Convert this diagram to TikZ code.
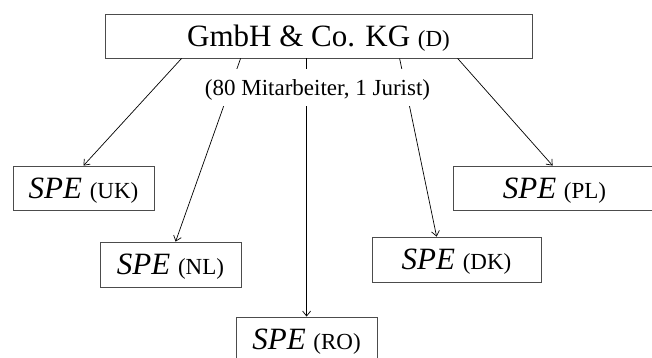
\documentclass[tikz,border=0pt]{standalone}
\usepackage{fontspec}
\setmainfont{Liberation Serif}
\usetikzlibrary{arrows.meta}
\newcommand\smtxt[1]{{\fontsize{23}{23}\selectfont #1}}
\begin{document}
\begin{tikzpicture}[x=1pt,y=-1pt,
  box/.style={draw=black!70, line width=0.8pt, inner sep=0pt, minimum height=44pt,
    text height=20.5pt, text depth=0pt, font=\fontsize{31}{31}\selectfont},
  conn/.style={-{Straight Barb[length=5pt,width=8pt]}, line width=0.7pt},
  lbl/.style={fill=white, inner xsep=3pt, inner ysep=0pt, minimum height=37pt,
    text height=15.5pt, text depth=0pt, font=\fontsize{23}{23}\selectfont}]
\useasboundingbox (0,0) rectangle (652,358);
\clip (0,0) rectangle (652,358);
\node[box, minimum width=427pt] (top) at (318.5,36) {GmbH \& Co. KG \smtxt{(D)}};
\node[box, minimum width=141pt] (uk) at (83.5,188) {\textit{SPE} \smtxt{(UK)}};
\node[box, minimum width=141pt, minimum height=45pt] (nl) at (170.5,264.5) {\textit{SPE} \smtxt{(NL)}};
\node[box, minimum width=141pt] (ro) at (306.5,339) {\textit{SPE} \smtxt{(RO)}};
\node[box, minimum width=169pt, minimum height=45pt] (dk) at (456.5,259.5) {\textit{SPE} \smtxt{(DK)}};
\node[box, minimum width=203pt] (pl) at (554.5,188) {\textit{SPE} \smtxt{(PL)}};
\draw[conn] ([xshift=77pt]top.south west) -- (uk.north);
\draw[conn] ([xshift=136pt]top.south west) -- ([xshift=76pt]nl.north west);
\draw[conn] ([xshift=202pt]top.south west) -- ([xshift=71pt]ro.north west);
\draw[conn] ([xshift=295pt]top.south west) -- ([xshift=65pt]dk.north west);
\draw[conn] ([xshift=353pt]top.south west) -- ([xshift=100pt]pl.north west);
\node[lbl] (lab) at (317.5,88) {(80 Mitarbeiter, 1 Jurist)};
\end{tikzpicture}
\end{document}
